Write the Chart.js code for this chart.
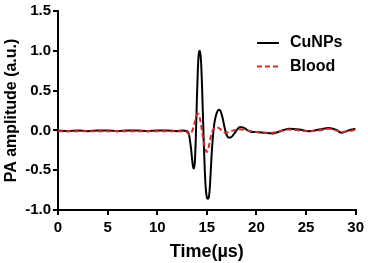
<!DOCTYPE html>
<html>
<head>
<meta charset="utf-8">
<script src="https://cdn.jsdelivr.net/npm/chart.js@4"></script>
<style>
  html, body { margin: 0; padding: 0; background: #fff; }
  #wrap { width: 368px; height: 263px; }
</style>
</head>
<body>
<div id="wrap"><canvas id="paChart"></canvas></div>
<script>
// time axis (µs), shared by both traces
const timeUs = [0,1,2,3,4,5,6,7,8,9,10,11,12,
  12.5,13,13.2,13.4,13.6,13.7,13.8,13.9,
  14.0,14.1,14.2,14.3,14.4,14.5,14.6,14.7,14.8,14.9,15.0,15.1,15.2,15.3,15.4,15.5,15.6,15.7,15.8,
  16.0,16.2,16.4,16.6,16.8,17.0,17.2,17.4,
  17.7,18.0,18.3,18.6,19.0,19.5,20,
  20.8,21.6,22.4,23.3,24.3,25.3,26.3,27.3,28.0,28.6,29.3,30];

const cuNPs = [0,-0.01,0,-0.01,0,0,-0.01,0,0,-0.01,0,0,-0.01,
  0,-0.01,-0.05,-0.22,-0.45,-0.48,-0.38,-0.05,
  0.4,0.78,0.97,1.0,0.9,0.62,0.22,-0.18,-0.52,-0.74,-0.84,-0.86,-0.84,-0.72,-0.5,-0.27,-0.1,0.03,0.12,
  0.22,0.26,0.24,0.15,0.03,-0.06,-0.09,-0.09,
  -0.05,0.0,0.04,0.04,0.01,-0.02,-0.02,
  -0.03,-0.04,-0.01,0.02,0.01,-0.01,0.01,0.03,0.01,-0.03,0.0,0.02];

const blood = [-0.01,-0.01,-0.01,-0.01,-0.01,-0.01,-0.01,-0.01,-0.01,-0.01,-0.01,-0.01,-0.01,
  -0.01,-0.02,-0.05,-0.04,0.02,0.06,0.11,0.16,
  0.2,0.21,0.2,0.15,0.08,0.0,-0.08,-0.15,-0.21,-0.25,-0.27,-0.25,-0.2,-0.14,-0.08,-0.03,0.0,0.02,0.03,
  0.04,0.03,0.01,-0.01,-0.03,-0.03,-0.02,-0.01,
  0.0,0.01,0.01,0.01,0.0,-0.01,-0.02,
  -0.03,-0.03,-0.01,0.01,0.0,-0.01,0.0,0.02,0.0,-0.02,-0.01,0.01];

const xTicks = [0,5,10,15,20,25,30];
const yTicks = [-1.0,-0.5,0.0,0.5,1.0,1.5];

const FONT = "'Liberation Sans', Arial, sans-serif";

// legend drawn inside the plot, top right
const insideLegend = {
  id: 'insideLegend',
  afterDatasetsDraw(chart) {
    const ctx = chart.ctx;
    const rows = [43, 66.5];
    chart.data.datasets.forEach((ds, i) => {
      const y = rows[i];
      ctx.save();
      ctx.strokeStyle = ds.borderColor;
      ctx.lineWidth = 2;
      ctx.setLineDash(ds.borderDash || []);
      ctx.beginPath();
      ctx.moveTo(257, y);
      ctx.lineTo(279, y);
      ctx.stroke();
      ctx.setLineDash([]);
      ctx.fillStyle = '#000';
      ctx.font = 'bold 16px ' + FONT;
      ctx.textBaseline = 'middle';
      ctx.fillText(ds.label, 290, y);
      ctx.restore();
    });
  }
};

new Chart(document.getElementById('paChart'), {
  type: 'line',
  data: {
    datasets: [
      {
        label: 'CuNPs',
        data: timeUs.map((t, i) => ({x: t, y: cuNPs[i]})),
        borderColor: '#000000',
        borderWidth: 2,
        pointRadius: 0,
        cubicInterpolationMode: 'monotone',
        order: 1
      },
      {
        label: 'Blood',
        data: timeUs.map((t, i) => ({x: t, y: blood[i]})),
        borderColor: '#d42a2a',
        borderWidth: 2,
        borderDash: [5, 3],
        pointRadius: 0,
        cubicInterpolationMode: 'monotone',
        order: 0
      }
    ]
  },
  options: {
    responsive: true,
    maintainAspectRatio: false,
    animation: false,
    layout: { padding: { top: 10, right: 11, left: 0, bottom: 0 } },
    plugins: { legend: { display: false }, tooltip: { enabled: false } },
    scales: {
      x: {
        type: 'linear',
        min: 0, max: 30,
        afterFit: s => { s.height = 53; },
        afterBuildTicks: s => { s.ticks = xTicks.map(v => ({value: v})); },
        border: { display: true, color: '#000', width: 2 },
        grid: { drawOnChartArea: false, drawTicks: true, tickLength: 5, color: '#000', lineWidth: 2 },
        ticks: { color: '#000', padding: 4, maxRotation: 0, font: { family: FONT, size: 15, weight: 'bold' } },
        title: { display: true, text: 'Time(µs)', color: '#000', padding: { top: 2, bottom: 0 },
                 font: { family: FONT, size: 18, weight: 'bold' } }
      },
      y: {
        min: -1, max: 1.5,
        afterFit: s => { s.width = 58; },
        afterBuildTicks: s => { s.ticks = yTicks.map(v => ({value: v})); },
        border: { display: true, color: '#000', width: 2 },
        grid: { drawOnChartArea: false, drawTicks: true, tickLength: 5, color: '#000', lineWidth: 2 },
        ticks: { color: '#000', padding: 2, font: { family: FONT, size: 15, weight: 'bold' },
                 callback: v => Number(v).toFixed(1) },
        title: { display: true, text: 'PA amplitude (a.u.)', color: '#000', padding: { top: 2, bottom: 0 },
                 font: { family: FONT, size: 16, weight: 'bold' } }
      }
    }
  },
  plugins: [insideLegend]
});
</script>
</body>
</html>
